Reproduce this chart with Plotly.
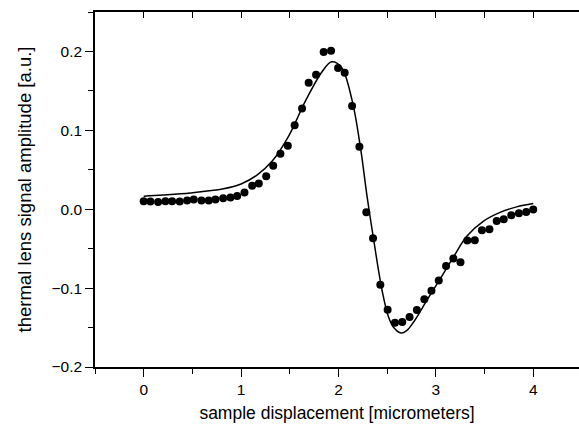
import plotly.graph_objects as go

# measured data points
data_x = [0.000, 0.069, 0.148, 0.223, 0.292, 0.370, 0.446, 0.514, 0.593, 0.668,
          0.737, 0.816, 0.891, 0.960, 1.035, 1.114, 1.182, 1.258, 1.330, 1.404,
          1.480, 1.550, 1.626, 1.694, 1.770, 1.848, 1.924, 1.996, 2.064, 2.140,
          2.215, 2.286, 2.355, 2.430, 2.505, 2.580, 2.655, 2.730, 2.805, 2.882,
          2.955, 3.030, 3.105, 3.180, 3.253, 3.323, 3.400, 3.473, 3.550, 3.625,
          3.697, 3.775, 3.853, 3.928, 4.000]
data_y = [0.0102, 0.0098, 0.0093, 0.0102, 0.0102, 0.0098, 0.0110, 0.0123, 0.0110, 0.0110,
          0.0123, 0.0140, 0.0149, 0.0169, 0.0212, 0.0296, 0.0326, 0.0419, 0.0550, 0.0702,
          0.0803, 0.1066, 0.1278, 0.1603, 0.1704, 0.1992, 0.2009, 0.1789, 0.1730, 0.1307,
          0.0791, -0.0038, -0.0368, -0.0956, -0.1273, -0.1438, -0.1430, -0.1366, -0.1278, -0.1142,
          -0.1032, -0.0905, -0.0719, -0.0626, -0.0672, -0.0398, -0.0393, -0.0267, -0.0254, -0.0148,
          -0.0127, -0.0076, -0.0051, -0.0034, -0.0004]

# fitted curve
fit_x = [0.0, 0.2, 0.48, 0.82, 1.0, 1.16, 1.32, 1.49, 1.66, 1.83, 1.93, 2.03, 2.14,
         2.225, 2.294, 2.362, 2.448, 2.515, 2.567, 2.643, 2.70, 2.772, 2.91, 3.046,
         3.183, 3.32, 3.49, 3.66, 3.83, 4.0]
fit_y = [0.0165, 0.0180, 0.0207, 0.0260, 0.0320, 0.0430, 0.0610, 0.0930, 0.1370, 0.1740,
         0.1870, 0.1800, 0.1380, 0.0790, 0.0160, -0.0390, -0.1030, -0.1370, -0.1500, -0.1570,
         -0.1540, -0.1430, -0.1150, -0.0880, -0.0600, -0.0340, -0.0150, -0.0040, 0.0030, 0.0072]

x_ticks = [0, 1, 2, 3, 4]
y_ticks = [-0.2, -0.1, 0.0, 0.1, 0.2]
x_title = "sample displacement [micrometers]"
y_title = "thermal lens signal amplitude [a.u.]"

font_family = "Liberation Sans, Arial, sans-serif"

fig = go.Figure()
fig.add_trace(go.Scatter(x=fit_x, y=fit_y, mode="lines", line=dict(color="black", width=1.5, shape="spline"),
                         showlegend=False, hoverinfo="skip"))
fig.add_trace(go.Scatter(x=data_x, y=data_y, mode="markers", marker=dict(color="black", size=8),
                         showlegend=False))
fig.add_trace(go.Scatter(x=fit_x, y=fit_y, xaxis="x2", mode="lines", line=dict(width=0),
                         opacity=0, showlegend=False, hoverinfo="skip"))

fig.update_layout(
    width=579, height=429,
    margin=dict(l=95, r=0, t=12, b=62),
    plot_bgcolor="white", paper_bgcolor="white",
    font=dict(family=font_family, size=15.5, color="black"),
    xaxis=dict(range=[-0.5, 4.47], tickvals=x_ticks, ticks="outside", ticklen=8, tickwidth=1.2,
               tickcolor="black", showline=True, linecolor="black", linewidth=1.5,
               showgrid=False, zeroline=False,
               minor=dict(dtick=0.5, ticks="outside", ticklen=5, tickcolor="black", tickwidth=1.2),
               title=dict(text=x_title, standoff=9, font=dict(size=17.5)),
               tickfont=dict(size=15.5)),
    xaxis2=dict(overlaying="x", matches="x", side="top", range=[-0.5, 4.47], tickvals=x_ticks,
                ticks="inside", ticklen=6, tickwidth=1.2, tickcolor="black", showticklabels=False,
                showline=True, linecolor="black", linewidth=1.5, showgrid=False, zeroline=False,
                minor=dict(dtick=0.5, ticks="inside", ticklen=6, tickcolor="black", tickwidth=1.2)),
    yaxis=dict(range=[-0.2, 0.25], tickvals=y_ticks, tickformat=".1f", ticks="outside", ticklen=8,
               tickwidth=1.2, tickcolor="black", showline=True, linecolor="black", linewidth=1.5,
               showgrid=False, zeroline=False,
               minor=dict(dtick=0.05, ticks="outside", ticklen=5, tickcolor="black", tickwidth=1.2),
               title=dict(text=y_title, standoff=15, font=dict(size=18.5)),
               tickfont=dict(size=15.5)),
)

fig.write_html("out.html", config={"displayModeBar": False},
               post_script="document.body.style.margin='0';")
